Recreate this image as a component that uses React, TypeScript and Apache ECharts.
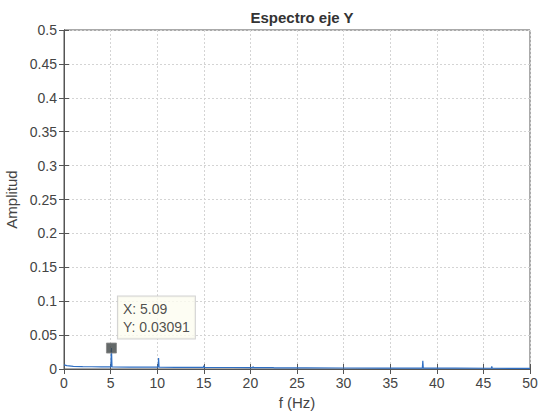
import React, { useEffect, useRef } from "react";
import * as echarts from "echarts";

const freqs = [0, 0.3, 1, 2, 3, 4, 5.03, 5.09, 5.15, 7, 9, 10.1, 10.15, 10.2, 12, 14.95, 15.0, 15.05, 18, 20.25, 20.3, 20.35, 22.45, 22.5, 22.55, 26, 30, 34, 38.45, 38.5, 38.55, 42, 45.85, 45.9, 45.95, 48, 50];
const amps = [0.006, 0.005, 0.004, 0.0035, 0.0033, 0.0032, 0.003, 0.03091, 0.003, 0.0028, 0.0027, 0.0027, 0.016, 0.0026, 0.0025, 0.0025, 0.005, 0.0024, 0.0022, 0.0021, 0.0035, 0.002, 0.0019, 0.0025, 0.0018, 0.0017, 0.0015, 0.0014, 0.0013, 0.012, 0.0013, 0.0012, 0.0011, 0.004, 0.0011, 0.001, 0.001];
const tipX = 5.09;
const tipY = 0.03091;

const xMin = 0, xMax = 50, xStep = 5;
const yMin = 0, yMax = 0.5, yStep = 0.05;

export default function App() {
  const ref = useRef<HTMLDivElement>(null);
  useEffect(() => {
    const chart = echarts.init(ref.current!, null, { renderer: "svg" });
    const textColor = "#444";
    const axisCommon = {
      axisLine: { show: true, lineStyle: { color: "#555", width: 1 } },
      axisTick: { show: true, inside: true, length: 5, lineStyle: { color: "#555" } },
    };
    chart.setOption({
      animation: false,
      backgroundColor: "#ffffff",
      title: {
        text: "Espectro eje Y",
        left: 297,
        textAlign: "center",
        top: 5,
        textStyle: { fontFamily: "Liberation Sans", fontSize: 15, fontWeight: "bold", color: "#333" },
      },
      grid: { left: 64, right: 9, top: 30, bottom: 42, show: true, borderColor: "#555", borderWidth: 1, outerBoundsMode: "none", containLabel: false },
      xAxis: [
        {
          type: "value", min: xMin, max: xMax, interval: xStep,
          name: "f (Hz)", nameLocation: "middle", nameGap: 22,
          nameTextStyle: { fontFamily: "Liberation Sans", fontSize: 15, color: textColor },
          ...axisCommon,
          axisLabel: { fontFamily: "Liberation Sans", fontSize: 14, color: textColor, margin: 7 },
          splitLine: { show: true, lineStyle: { color: "#d4d4d4", type: [2, 2], width: 1 } },
        },
        {
          type: "value", min: xMin, max: xMax, interval: xStep, position: "top",
          ...axisCommon, axisLabel: { show: false }, splitLine: { show: false },
        },
      ],
      yAxis: [
        {
          type: "value", min: yMin, max: yMax, interval: yStep,
          name: "Amplitud", nameLocation: "middle", nameGap: 42,
          nameTextStyle: { fontFamily: "Liberation Sans", fontSize: 15, color: textColor },
          ...axisCommon,
          axisLabel: { fontFamily: "Liberation Sans", fontSize: 14, color: textColor, margin: 7 },
          splitLine: { show: true, lineStyle: { color: "#d4d4d4", type: [2, 2], width: 1 } },
        },
        {
          type: "value", min: yMin, max: yMax, interval: yStep, position: "right",
          ...axisCommon, axisLabel: { show: false }, splitLine: { show: false },
        },
      ],
      series: [
        {
          type: "line",
          data: freqs.map((f, i) => [f, amps[i]]),
          showSymbol: false,
          lineStyle: { color: "#2f6fc4", width: 1.2 },
          z: 3,
        },
        {
          type: "scatter",
          data: [[tipX, tipY]],
          symbol: "rect",
          symbolSize: 10,
          itemStyle: { color: "#3d4444", borderColor: "#888", borderWidth: 1 },
          z: 5,
          label: {
            show: true,
            position: [12, -46],
            formatter: () => `X: ${tipX}\nY: ${tipY}`,
            fontFamily: "Liberation Sans",
            fontSize: 14,
            lineHeight: 18,
            color: "#222",
            backgroundColor: "#fdfdf0",
            borderColor: "#c8c8c8",
            borderWidth: 1,
            padding: [3, 5, 3, 5],
            align: "left",
          },
        },
      ],
    });
    return () => chart.dispose();
  }, []);
  return <div ref={ref} style={{ width: 539, height: 411, position: "absolute", left: 0, top: 0 }} />;
}
